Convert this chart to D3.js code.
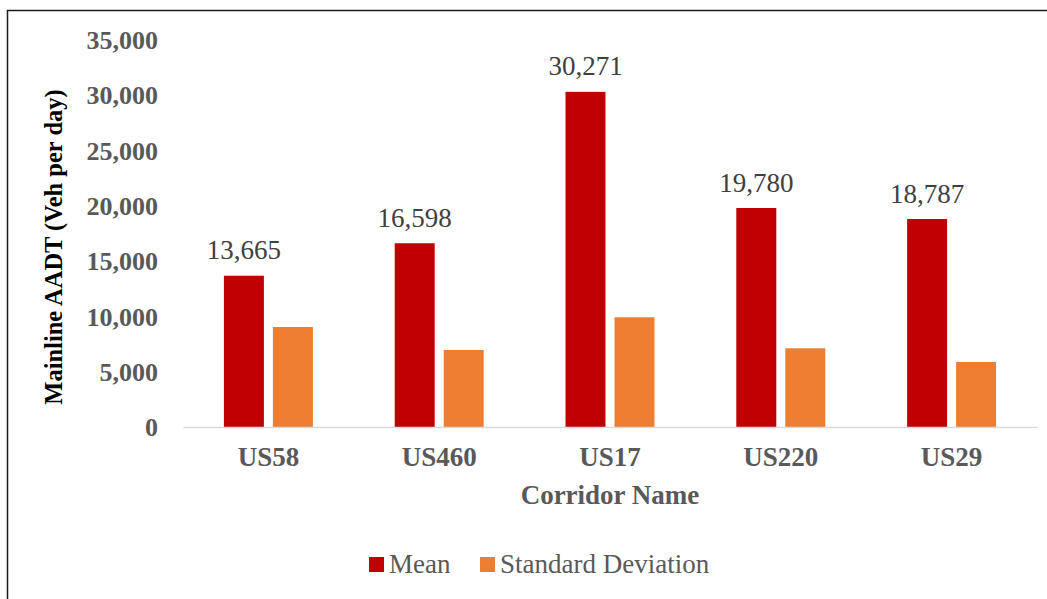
<!DOCTYPE html>
<html><head><meta charset="utf-8">
<script src="https://cdn.jsdelivr.net/npm/d3@7"></script>
<style>html,body{margin:0;padding:0;background:#fff;overflow:hidden}</style>
</head><body>
<svg id="c" width="1047" height="599"></svg>
<script>
const categories = ["US58", "US460", "US17", "US220", "US29"];
const seriesNames = ["Mean", "Standard Deviation"];
const meanValues = [13665, 16598, 30271, 19780, 18787];
const sdValues = [9030, 6955, 9910, 7110, 5870];
const yTicks = [0, 5000, 10000, 15000, 20000, 25000, 30000, 35000];
const colors = ["#C00000", "#ED7D31"];

const svg = d3.select("#c");
const font = "'Liberation Serif','Times New Roman',serif";

svg.append("rect").attr("x", 7.5).attr("y", 10.5).attr("width", 1100).attr("height", 700)
  .attr("fill", "#fff").attr("stroke", "#1a1a1a").attr("stroke-width", 1.5);

const x0 = d3.scaleBand().domain(categories).range([183, 1037]).padding(0);
const x1 = d3.scaleBand().domain(seriesNames).range([0, x0.bandwidth()])
  .paddingInner(0.184).paddingOuter(0.835);
const y = d3.scaleLinear().domain([0, 35000]).range([427, 39.5]);

const data = categories.map((c, i) => ({cat: c, vals: [meanValues[i], sdValues[i]]}));

// bars
const g = svg.append("g");
data.forEach(d => {
  d.vals.forEach((v, j) => {
    g.append("rect")
      .attr("x", x0(d.cat) + x1(seriesNames[j]))
      .attr("y", y(v))
      .attr("width", x1.bandwidth())
      .attr("height", y(0) - y(v))
      .attr("fill", colors[j]);
  });
  g.append("text")
    .attr("x", x0(d.cat) + x1(seriesNames[0]) + x1.bandwidth() / 2)
    .attr("y", y(d.vals[0]) - 16.5)
    .attr("text-anchor", "middle")
    .attr("font-family", font).attr("font-size", 27).attr("fill", "#404040")
    .text(d3.format(",")(d.vals[0]));
});

// x axis
const xAxis = svg.append("g").attr("transform", "translate(0,427)")
  .call(d3.axisBottom(x0).tickSize(0).tickPadding(0));
xAxis.select(".domain").attr("stroke", "#D9D9D9").attr("stroke-width", 1.5);
xAxis.selectAll("text").attr("y", 39).attr("dy", null)
  .attr("font-family", font).attr("font-size", 27).attr("font-weight", "bold").attr("fill", "#595959");

// y axis
const yAxis = svg.append("g").attr("transform", "translate(158,0)")
  .call(d3.axisLeft(y).tickValues(yTicks).tickFormat(d3.format(",")).tickSize(0).tickPadding(0));
yAxis.select(".domain").remove();
yAxis.selectAll("text").attr("dy", "0.34em")
  .attr("font-family", font).attr("font-size", 26).attr("font-weight", "bold").attr("fill", "#595959");

// axis titles
svg.append("text").attr("transform", "translate(62,247) rotate(-90)")
  .attr("text-anchor", "middle").attr("font-family", font).attr("font-size", 24.5)
  .attr("font-weight", "bold").attr("fill", "#000").text("Mainline AADT (Veh per day)");
svg.append("text").attr("x", 610).attr("y", 504).attr("text-anchor", "middle")
  .attr("font-family", font).attr("font-size", 27).attr("font-weight", "bold")
  .attr("fill", "#595959").text("Corridor Name");

// legend
const legX = [369, 480];
seriesNames.forEach((s, j) => {
  svg.append("rect").attr("x", legX[j]).attr("y", 557).attr("width", 15).attr("height", 15)
    .attr("fill", colors[j]);
  svg.append("text").attr("x", legX[j] + 20).attr("y", 573)
    .attr("font-family", font).attr("font-size", 27).attr("fill", "#595959").text(s);
});
</script>
</body></html>
